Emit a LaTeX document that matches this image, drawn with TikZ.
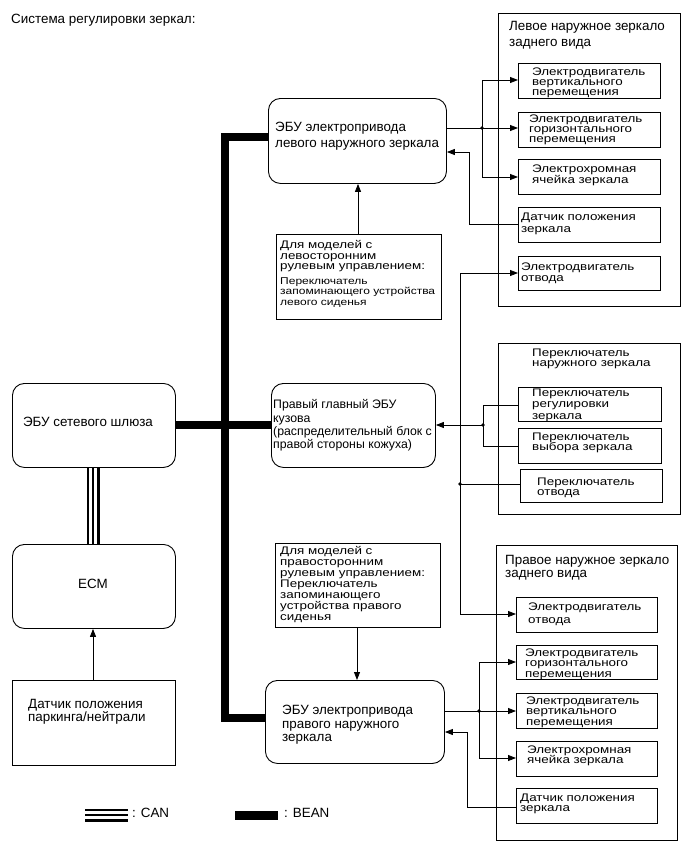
\documentclass[tikz,border=0pt]{standalone}
\usepackage{fontspec}
\usepackage{graphicx}
\setmainfont{Liberation Sans}
\usetikzlibrary{arrows.meta}
\newcommand\fz[2]{\fontsize{#1}{#2}\selectfont\lineskiplimit=-50pt\relax}
\newcommand\sqz[3]{\scalebox{1}[0.82]{\vbox{\fz{#1}{#2}\halign{##\hfil\cr#3\crcr}}}}
\begin{document}
\begin{tikzpicture}[x=1pt,y=-1pt,
  box/.style={draw, line width=0.9pt, inner sep=0pt, anchor=north west},
  rbox/.style={box, rounded corners=12pt},
  txt/.style={anchor=north west, align=left, inner sep=0pt},
  con/.style={line width=0.8pt},
  arr/.style={con, -{Triangle[length=8pt,width=6pt]}},
  bean/.style={line width=8.5pt, line join=miter},
  dot/.style={circle, fill, inner sep=0pt, minimum size=3.6pt}]
\useasboundingbox (0,0) rectangle (692,854);
% title
\node[anchor=west, inner sep=0pt, font=\fz{13.4}{15}] (title) at (11,20) {Система регулировки зеркал:};
% left mirror
\node[box, minimum width=182, minimum height=293] (LM) at (498,13) {};
\node[txt, font=\fz{13.4}{16}] (LMt) at (509,21) {Левое наружное зеркало\\заднего вида};
\node[box, minimum width=142, minimum height=35] (LM1) at (518,63) {};
\node[box, minimum width=142, minimum height=35] (LM2) at (518,112) {};
\node[box, minimum width=142, minimum height=35] (LM3) at (518,159) {};
\node[box, minimum width=142, minimum height=35] (LM4) at (518,207) {};
\node[box, minimum width=142, minimum height=34] (LM5) at (518,256) {};
\node[txt] (LM1t) at (532,67.5) {\sqz{13.4}{12.2}{Электродвигатель\cr вертикального\cr перемещения}};
\node[txt] (LM2t) at (529,114.5) {\sqz{13.4}{12.2}{Электродвигатель\cr горизонтального\cr перемещения}};
\node[txt] (LM3t) at (532,164.5) {\sqz{13.4}{13.4}{Электрохромная\cr ячейка зеркала}};
\node[txt] (LM4t) at (521,212.5) {\sqz{13.4}{14.6}{Датчик положения\cr зеркала}};
\node[txt] (LM5t) at (521,262.5) {\sqz{13.4}{13.4}{Электродвигатель\cr отвода}};
% left ECU
\node[rbox, minimum width=178, minimum height=85] (EL) at (268,98) {};
\node[txt, font=\fz{13.4}{16}] (ELt) at (275,122) {ЭБУ электропривода\\левого наружного зеркала};
% LHD seat switch
\node[box, minimum width=165, minimum height=85] (SL) at (276,234) {};
\node[txt] (SLt1) at (280,240.5) {\sqz{13.4}{12.8}{Для моделей с\cr левосторонним\cr рулевым управлением:}};
\node[txt] (SLt2) at (280,277.5) {\sqz{12}{12.8}{Переключатель\cr запоминающего устройства\cr левого сиденья}};
% middle switch block
\node[box, minimum width=182, minimum height=171] (MS) at (498,343) {};
\node[txt] (MSt) at (532,348.5) {\sqz{13.4}{12.8}{Переключатель\cr наружного зеркала}};
\node[box, minimum width=143, minimum height=34] (MS1) at (518,387) {};
\node[box, minimum width=143, minimum height=35] (MS2) at (518,428) {};
\node[box, minimum width=142, minimum height=33] (MS3) at (520,469) {};
\node[txt] (MS1t) at (532,388.5) {\sqz{13.4}{14}{Переключатель\cr регулировки\cr зеркала}};
\node[txt] (MS2t) at (532,432.5) {\sqz{13.4}{12.8}{Переключатель\cr выбора зеркала}};
\node[txt] (MS3t) at (537,477.5) {\sqz{13.4}{12.8}{Переключатель\cr отвода}};
% right main body ECU
\node[rbox, minimum width=164, minimum height=84] (PR) at (271,383) {};
\node[txt, font=\fz{12.3}{13.3}] (PRt) at (273,399.5) {Правый главный ЭБУ\\кузова\\(распределительный блок с\\правой стороны кожуха)};
% gateway, ECM, sensor
\node[rbox, minimum width=163, minimum height=84] (GW) at (12,383) {};
\node[anchor=center, inner sep=0pt, font=\fz{13.4}{15}] (GWt) at (88,422) {ЭБУ сетевого шлюза};
\node[rbox, minimum width=163, minimum height=84] (ECM) at (12,544) {};
\node[anchor=center, inner sep=0pt, font=\fz{13.4}{15}] (ECMt) at (93,584) {ECM};
\node[box, minimum width=163, minimum height=85] (PN) at (12,680) {};
\node[txt, font=\fz{13.4}{12.8}] (PNt) at (28,699.5) {Датчик положения\\паркинга/нейтрали};
% right mirror
\node[box, minimum width=181, minimum height=295] (RM) at (496,545) {};
\node[txt, font=\fz{13.4}{13.5}] (RMt) at (505,555) {Правое наружное зеркало\\заднего вида};
\node[box, minimum width=141, minimum height=35] (RM1) at (516,597) {};
\node[box, minimum width=141, minimum height=34] (RM2) at (516,645) {};
\node[box, minimum width=141, minimum height=35] (RM3) at (516,693) {};
\node[box, minimum width=141, minimum height=35] (RM4) at (516,741) {};
\node[box, minimum width=141, minimum height=35] (RM5) at (516,788) {};
\node[txt] (RM1t) at (528,602.5) {\sqz{13.4}{15.8}{Электродвигатель\cr отвода}};
\node[txt] (RM2t) at (525,648.5) {\sqz{13.4}{12.8}{Электродвигатель\cr горизонтального\cr перемещения}};
\node[txt] (RM3t) at (526,696.5) {\sqz{13.4}{12.8}{Электродвигатель\cr вертикального\cr перемещения}};
\node[txt] (RM4t) at (527,745.5) {\sqz{13.4}{12.8}{Электрохромная\cr ячейка зеркала}};
\node[txt] (RM5t) at (520,793.5) {\sqz{13.4}{12.8}{Датчик положения\cr зеркала}};
% right ECU
\node[rbox, minimum width=179, minimum height=83] (ER) at (265,680) {};
\node[txt, font=\fz{13.4}{13.5}] (ERt) at (282,705) {ЭБУ электропривода\\правого наружного\\зеркала};
% RHD seat switch
\node[box, minimum width=165, minimum height=84] (SR) at (275,543) {};
\node[txt] (SRt) at (280,546.5) {\sqz{13.4}{13.4}{Для моделей с\cr правосторонним\cr рулевым управлением:\cr Переключатель\cr запоминающего\cr устройства правого\cr сиденья}};
% ---- coordinates
\coordinate (J1) at (482,128);
\coordinate (J1t) at (482,80);
\coordinate (J1b) at (482,177);
\coordinate (F1a) at (469,224);
\coordinate (F1b) at (469,152);
\coordinate (VT) at (460,273);
\coordinate (VB) at (460,614);
\coordinate (VD) at (460,484);
\coordinate (MJ) at (483,425);
\coordinate (MJt) at (483,405);
\coordinate (MJb) at (483,446);
\coordinate (J2) at (479,711);
\coordinate (J2t) at (479,662);
\coordinate (J2b) at (479,758);
\coordinate (F2a) at (467,807);
\coordinate (F2b) at (467,732);
\coordinate (B1) at (225,137);
\coordinate (B2) at (225,718);
\coordinate (BM) at (225,425);
\coordinate (CX) at (93,500);
\coordinate (SLx) at (358,0);
\coordinate (SRx) at (357,0);
% ---- BEAN
\draw[bean] (EL.west |- B1) -- (B1) -- (B2) -- (ER.west |- B2);
\draw[bean] (GW.east |- BM) -- (PR.west |- BM);
% ---- CAN
\draw[line width=13pt] (GW.south -| CX) -- (ECM.north -| CX);
\draw[line width=8pt, white] (GW.south -| CX) -- (ECM.north -| CX);
\draw[line width=1.2pt] (GW.south -| CX) -- (ECM.north -| CX);
% ---- left mirror connectors
\draw[con] (EL.east |- J1) -- (J1);
\draw[con] (J1t) -- (J1b);
\draw[arr] (J1t) -- (J1t -| LM1.west);
\draw[arr] (J1) -- (J1 -| LM2.west);
\draw[arr] (J1b) -- (J1b -| LM3.west);
\node[dot] (d1) at (J1) {};
\draw[arr] (LM4.west |- F1a) -- (F1a) -- (F1b) -- (F1b -| EL.east);
\draw[arr] (SL.north -| SLx) -- (EL.south -| SLx);
% ---- retract line
\draw[arr] (VD) -- (VT) -- (VT -| LM5.west);
\draw[arr] (VD) -- (VB) -- (VB -| RM1.west);
\draw[con] (VD) -- (VD -| MS3.west);
\node[dot] (d2) at (VD) {};
% ---- mirror switch
\draw[con] (MS1.west |- MJt) -- (MJt) -- (MJb) -- (MS2.west |- MJb);
\draw[arr] (MJ) -- (MJ -| PR.east);
\node[dot] (d3) at (MJ) {};
% ---- right mirror connectors
\draw[con] (ER.east |- J2) -- (J2);
\draw[con] (J2t) -- (J2b);
\draw[arr] (J2t) -- (J2t -| RM2.west);
\draw[arr] (J2) -- (J2 -| RM3.west);
\draw[arr] (J2b) -- (J2b -| RM4.west);
\node[dot] (d4) at (J2) {};
\draw[arr] (RM5.west |- F2a) -- (F2a) -- (F2b) -- (F2b -| ER.east);
\draw[arr] (SR.south -| SRx) -- (ER.north -| SRx);
% ---- sensor to ECM
\draw[arr] (PN.north -| CX) -- (ECM.south -| CX);
% ---- legend
\coordinate (CANa) at (85,815);
\coordinate (CANb) at (128,815);
\coordinate (BNa) at (235,815);
\coordinate (BNb) at (278,815);
\draw[line width=13pt] (CANa) -- (CANb);
\draw[line width=8pt, white] (CANa) -- (CANb);
\draw[line width=1.2pt] (CANa) -- (CANb);
\draw[line width=9pt] (BNa) -- (BNb);
\node[anchor=west, inner sep=0pt, font=\fz{13.4}{15}] (canl) at (132,813) {: CAN};
\node[anchor=west, inner sep=0pt, font=\fz{13.4}{15}] (beanl) at (284,813) {: BEAN};
\end{tikzpicture}
\end{document}
